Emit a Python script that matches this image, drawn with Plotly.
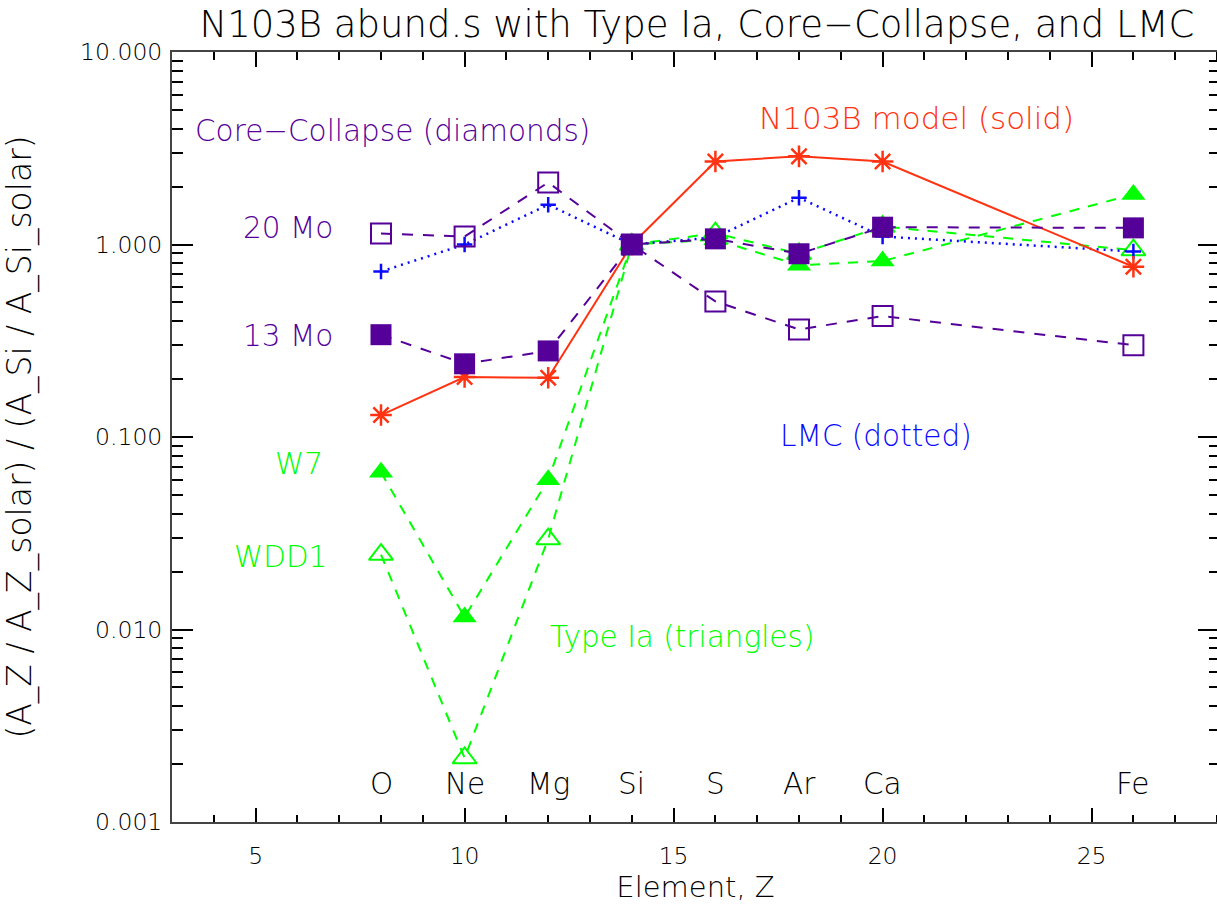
import math
import plotly.graph_objects as go

# Element atomic numbers and symbols
Z = [8, 10, 12, 14, 16, 18, 20, 26]
elements = ["O", "Ne", "Mg", "Si", "S", "Ar", "Ca", "Fe"]

# Abundance ratios relative to Si (solar-normalised)
n103b_model = [0.130, 0.205, 0.203, 1.0, 2.70, 2.87, 2.70, 0.766]
lmc = [0.724, 1.00, 1.61, 1.0, 1.09, 1.75, 1.10, 0.92]
cc_20mo = [1.14, 1.10, 2.10, 1.0, 0.506, 0.362, 0.425, 0.300]
cc_13mo = [0.340, 0.240, 0.280, 1.0, 1.07, 0.895, 1.23, 1.22]
ia_w7 = [0.0656, 0.0116, 0.060, 1.0, 1.06, 0.78, 0.82, 1.82]
ia_wdd1 = [0.0245, 0.00215, 0.0295, 1.0, 1.145, 0.894, 1.24, 0.935]

ytick_vals = [0.001, 0.01, 0.1, 1.0, 10.0]
ytick_text = ["0.001", "0.010", "0.100", "1.000", "10.000"]

PURPLE = "#550099"
RED = "#ff3311"
GREEN = "#00ff00"
BLUE = "#0a0aff"
INK = "#000000"
FONT = "DejaVu Sans"
WEIGHT = 200

FIG_W, FIG_H = 1219, 914
LEFT, BOTTOM, TOP = 172, 92, 52
PX_PER_Z = 41.8

fig = go.Figure()

# Type Ia models (green dashed, triangles)
fig.add_trace(go.Scatter(
    x=Z, y=ia_wdd1, mode="lines+markers",
    line=dict(color=GREEN, width=2, dash="10px,9px"),
    marker=dict(symbol="triangle-up-open", size=21, color=GREEN,
                line=dict(color=GREEN, width=2)),
))
fig.add_trace(go.Scatter(
    x=Z, y=ia_w7, mode="lines+markers",
    line=dict(color=GREEN, width=2, dash="10px,9px"),
    marker=dict(symbol="triangle-up", size=21, color=GREEN,
                line=dict(width=0)),
))

# LMC abundances (blue dotted, plus signs)
fig.add_trace(go.Scatter(
    x=Z, y=lmc, mode="lines+markers",
    line=dict(color=BLUE, width=2.5, dash="2px,5px"),
    marker=dict(symbol="cross-thin-open", size=11,
                line=dict(color=BLUE, width=2.5)),
))

# N103B fitted model (red solid, asterisks)
fig.add_trace(go.Scatter(
    x=Z, y=n103b_model, mode="lines+markers",
    line=dict(color=RED, width=2),
    marker=dict(symbol="asterisk-open", size=18,
                line=dict(color=RED, width=2.5)),
))

# Core-collapse models (purple dashed, squares)
fig.add_trace(go.Scatter(
    x=Z, y=cc_20mo, mode="lines+markers",
    line=dict(color=PURPLE, width=2, dash="11px,10px"),
    marker=dict(symbol="square-open", size=20,
                line=dict(color=PURPLE, width=2)),
))
fig.add_trace(go.Scatter(
    x=Z, y=cc_13mo, mode="lines+markers",
    line=dict(color=PURPLE, width=2, dash="11px,10px"),
    marker=dict(symbol="square", size=21, color=PURPLE,
                line=dict(width=0)),
))

annotations = []


def label(text, x, y, color, anchor, size=29.5):
    annotations.append(dict(
        x=x, y=math.log10(y), xref="x", yref="y", text=text,
        showarrow=False, xanchor=anchor, yanchor="middle",
        font=dict(family=FONT, size=size, color=color, weight=WEIGHT),
    ))


label("Core\u2212Collapse (diamonds)", 3.5, 3.9, PURPLE, "left")
label("N103B model (solid)", 17.0, 4.55, RED, "left", size=31)
label("20 Mo", 6.9, 1.22, PURPLE, "right")
label("13 Mo", 6.9, 0.333, PURPLE, "right")
label("LMC (dotted)", 17.5, 0.101, BLUE, "left")
label("W7", 6.66, 0.072, GREEN, "right")
label("WDD1", 6.76, 0.0239, GREEN, "right")
label("Type Ia (triangles)", 12.0, 0.0091, GREEN, "left")

for z, el in zip(Z, elements):
    label(el, z, 0.00157, INK, "center")

axis_common = dict(
    showline=True, linecolor="#444444", linewidth=2, mirror="allticks",
    ticks="inside", tickcolor=INK, tickwidth=1.5,
    showgrid=False, zeroline=False,
    tickfont=dict(family=FONT, size=23.5, color=INK, weight=WEIGHT),
)

# The frame runs just past the right edge of the window, so only the
# inner ticks of the right-hand axis show.
fig.update_layout(
    width=FIG_W, height=FIG_H,
    margin=dict(l=LEFT, r=0, t=TOP, b=BOTTOM, autoexpand=False),
    paper_bgcolor="white", plot_bgcolor="white",
    showlegend=False,
    title=dict(
        text="N103B abund.s with Type Ia, Core\u2212Collapse, and LMC",
        x=(697 - LEFT) / (FIG_W - LEFT), xref="paper", xanchor="center",
        y=1 - 24 / FIG_H, yref="container", yanchor="middle",
        font=dict(family=FONT, size=37, color=INK, weight=WEIGHT),
    ),
    xaxis=dict(
        range=[3, 3 + (FIG_W - LEFT) / PX_PER_Z], tick0=0, dtick=5, ticklen=14.5,
        ticklabelstandoff=12,
        minor=dict(dtick=1, ticks="inside", ticklen=7.5,
                   tickcolor=INK, tickwidth=1.5),
        title=dict(text="Element, Z", standoff=4,
                   font=dict(family=FONT, size=29, color=INK, weight=WEIGHT)),
        **axis_common,
    ),
    yaxis=dict(
        type="log", range=[-3, 1],
        tickmode="array", tickvals=ytick_vals, ticktext=ytick_text,
        ticklen=21, ticklabelstandoff=3,
        minor=dict(tickmode="array",
                   tickvals=[m * 10.0 ** e for e in range(-3, 1) for m in range(2, 10)],
                   ticks="inside", ticklen=10.5, tickcolor=INK, tickwidth=1.5),
        title=dict(text="(A_Z / A_Z_solar) / (A_Si / A_Si_solar)", standoff=43,
                   font=dict(family=FONT, size=33, color=INK, weight=WEIGHT)),
        **axis_common,
    ),
    annotations=annotations,
)

fig.write_html("out.html")
